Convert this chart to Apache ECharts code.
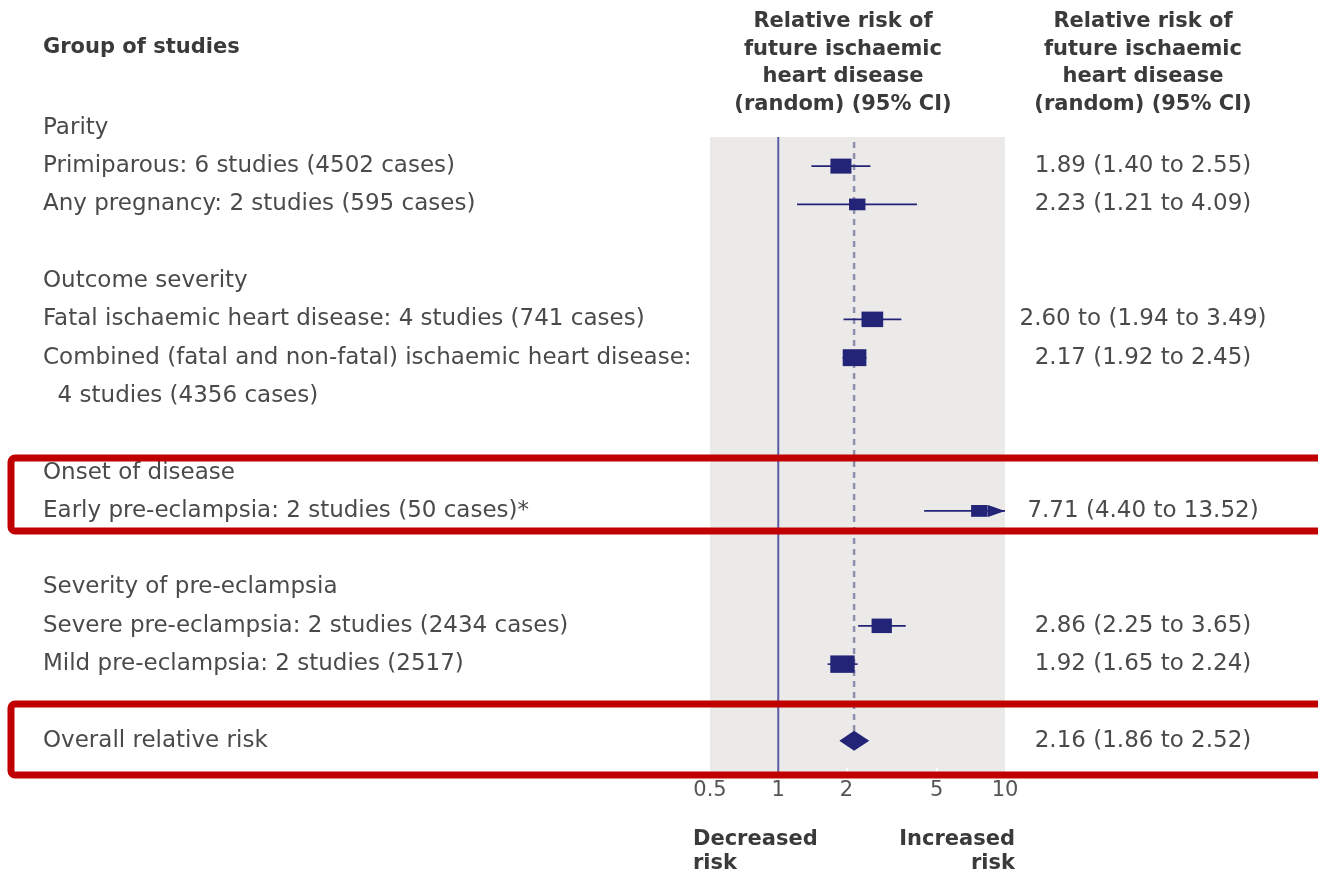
<!DOCTYPE html>
<html>
<head>
<meta charset="utf-8">
<title>Pre-eclampsia and future ischaemic heart disease</title>
<script src="https://cdn.jsdelivr.net/npm/echarts@6/dist/echarts.min.js"></script>
<style>
  html, body { margin: 0; padding: 0; background: #ffffff; }
  #chart { width: 1318px; height: 874px; }
</style>
</head>
<body>
<div id="chart"></div>
<script>
// Text lines of the left-hand column, one per row slot (blank slots are spacers)
const rowLabels = [
  'Parity',
  'Primiparous: 6 studies (4502 cases)',
  'Any pregnancy: 2 studies (595 cases)',
  '',
  'Outcome severity',
  'Fatal ischaemic heart disease: 4 studies (741 cases)',
  'Combined (fatal and non-fatal) ischaemic heart disease:',
  '  4 studies (4356 cases)',
  '',
  'Onset of disease',
  'Early pre-eclampsia: 2 studies (50 cases)*',
  '',
  'Severity of pre-eclampsia',
  'Severe pre-eclampsia: 2 studies (2434 cases)',
  'Mild pre-eclampsia: 2 studies (2517)',
  '',
  'Overall relative risk'
];

// Subgroup estimates: row slot, relative risk, 95% CI and pooled weight (box area)
const studyRow   = [1, 2, 5, 6, 10, 13, 14];
const studyRR    = [1.89, 2.23, 2.60, 2.17, 7.71, 2.86, 1.92];
const studyLower = [1.40, 1.21, 1.94, 1.92, 4.40, 2.25, 1.65];
const studyUpper = [2.55, 4.09, 3.49, 2.45, 13.52, 3.65, 2.24];
const studyWeight = [315, 192, 336, 400, 196, 294, 425];
const studyText = [
  '1.89 (1.40 to 2.55)',
  '2.23 (1.21 to 4.09)',
  '2.60 to (1.94 to 3.49)',
  '2.17 (1.92 to 2.45)',
  '7.71 (4.40 to 13.52)',
  '2.86 (2.25 to 3.65)',
  '1.92 (1.65 to 2.24)'
];

// Pooled estimate
const overallRow = 16;
const overallRR = 2.16;
const overallLower = 1.86;
const overallUpper = 2.52;
const overallText = '2.16 (1.86 to 2.52)';

// Axis ticks
const axisTicks = [0.5, 1, 2, 5, 10];
const axisMin = 0.5;
const axisMax = 10;
const nullEffect = 1;

const NAVY = '#232377';
const TEXT = '#4a4a4a';
const HEAD = '#3a3a3a';
const FONT = '"DejaVu Sans", "Noto Sans", sans-serif';
const ROW_MIN = 0.24;
const ROW_MAX = 16.92;
const LABEL_X = 43;
const VALUE_X = 1143;

const chart = echarts.init(document.getElementById('chart'), null, { renderer: 'canvas' });

const studyData = studyRow.map((r, i) => [studyRR[i], r, studyLower[i], studyUpper[i], studyWeight[i]]);
const labelData = rowLabels.map((t, i) => [nullEffect, i, t]);
const valueData = studyRow.map((r, i) => [nullEffect, r, studyText[i]])
  .concat([[nullEffect, overallRow, overallText]]);

function textItem(text, x, y, align) {
  return {
    type: 'text',
    style: {
      text: text, x: x, y: y,
      fill: TEXT,
      font: '23px ' + FONT,
      align: align, verticalAlign: 'middle',
      textAlign: align, textVerticalAlign: 'middle'
    }
  };
}

const headerText = 'Relative risk of\nfuture ischaemic\nheart disease\n(random) (95% CI)';

const option = {
  animation: false,
  backgroundColor: '#ffffff',
  grid: {
    left: 710, top: 137, width: 295, height: 639,
    show: true, backgroundColor: '#ebeae9', borderWidth: 0
  },
  xAxis: {
    type: 'log', logBase: 10, min: axisMin, max: axisMax,
    axisLine: { show: false },
    splitLine: { show: false },
    axisTick: {
      show: true, inside: true, length: 8, customValues: [2, 5],
      lineStyle: { color: '#ffffff', width: 2 }
    },
    axisLabel: {
      customValues: axisTicks, margin: 4,
      color: '#555555', fontSize: 21, fontFamily: FONT,
      formatter: v => String(+v.toFixed(2))
    }
  },
  yAxis: {
    type: 'value', inverse: true, min: ROW_MIN, max: ROW_MAX, show: false
  },
  graphic: [
    {
      type: 'text', x: 43, y: 48, z: 10,
      style: { text: 'Group of studies', fill: HEAD, font: 'bold 21px ' + FONT, verticalAlign: 'middle', textVerticalAlign: 'middle' }
    },
    {
      type: 'text', x: 843, y: 8, z: 10,
      style: {
        text: headerText, fill: HEAD, font: 'bold 21px ' + FONT,
        lineHeight: 27.5, align: 'center', textAlign: 'center'
      }
    },
    {
      type: 'text', x: 1143, y: 8, z: 10,
      style: {
        text: headerText, fill: HEAD, font: 'bold 21px ' + FONT,
        lineHeight: 27.5, align: 'center', textAlign: 'center'
      }
    },
    {
      type: 'text', x: 693, y: 828, z: 10,
      style: { text: 'Decreased\nrisk', fill: HEAD, font: 'bold 21px ' + FONT, lineHeight: 24, align: 'left' }
    },
    {
      type: 'text', x: 1015, y: 828, z: 10,
      style: { text: 'Increased\nrisk', fill: HEAD, font: 'bold 21px ' + FONT, lineHeight: 24, align: 'right', textAlign: 'right' }
    },
    {
      type: 'rect', z: 20,
      shape: { x: 11, y: 458, width: 1330, height: 73, r: 4 },
      style: { fill: 'none', stroke: '#c00000', lineWidth: 7 }
    },
    {
      type: 'rect', z: 20,
      shape: { x: 11, y: 704, width: 1330, height: 71, r: 4 },
      style: { fill: 'none', stroke: '#c00000', lineWidth: 7 }
    }
  ],
  series: [
    {
      // line of no effect
      type: 'custom', name: 'no effect', clip: false, z: 2,
      data: [[nullEffect]],
      renderItem: (params, api) => {
        const a = api.coord([api.value(0), ROW_MIN]);
        const b = api.coord([api.value(0), ROW_MAX]);
        return {
          type: 'line',
          shape: { x1: a[0], y1: a[1], x2: b[0], y2: b[1] },
          style: { stroke: '#5b5da6', lineWidth: 2 }
        };
      }
    },
    {
      // dashed reference at the pooled estimate
      type: 'custom', name: 'pooled line', clip: false, z: 2,
      data: [[overallRR, overallRow]],
      renderItem: (params, api) => {
        const a = api.coord([api.value(0), 0.37]);
        const b = api.coord([api.value(0), api.value(1)]);
        return {
          type: 'line',
          shape: { x1: a[0], y1: a[1], x2: b[0], y2: b[1] },
          style: { stroke: '#8e8fae', lineWidth: 2.5, lineDash: [6, 5] }
        };
      }
    },
    {
      type: 'custom', name: 'subgroups', clip: false, z: 5,
      data: studyData,
      renderItem: (params, api) => {
        const rr = api.value(0), row = api.value(1);
        const lo = api.value(2), hi = api.value(3), w = api.value(4);
        const c = api.coord([rr, row]);
        const pLo = api.coord([lo, row]);
        const truncated = hi > axisMax;
        const pHi = api.coord([truncated ? axisMax : hi, row]);
        const bw = Math.sqrt(w * 1.4), bh = Math.sqrt(w / 1.4);
        const children = [
          {
            type: 'line',
            shape: { x1: pLo[0], y1: c[1], x2: pHi[0], y2: c[1] },
            style: { stroke: NAVY, lineWidth: 1.6 }
          },
          {
            type: 'rect',
            shape: { x: c[0] - bw / 2, y: c[1] - bh / 2, width: bw, height: bh },
            style: { fill: NAVY }
          }
        ];
        if (truncated) {
          children.push({
            type: 'polygon',
            shape: { points: [[pHi[0] - 17, c[1] - 6], [pHi[0], c[1]], [pHi[0] - 17, c[1] + 6]] },
            style: { fill: NAVY }
          });
        }
        return { type: 'group', children: children };
      }
    },
    {
      type: 'custom', name: 'overall', clip: false, z: 5,
      data: [[overallRR, overallRow, overallLower, overallUpper]],
      renderItem: (params, api) => {
        const row = api.value(1);
        const c = api.coord([api.value(0), row]);
        const l = api.coord([api.value(2), row]);
        const r = api.coord([api.value(3), row]);
        return {
          type: 'polygon',
          shape: { points: [[l[0], c[1]], [c[0], c[1] - 10], [r[0], c[1]], [c[0], c[1] + 10]] },
          style: { fill: NAVY }
        };
      }
    },
    {
      type: 'custom', name: 'row labels', clip: false, z: 6,
      data: labelData,
      renderItem: (params, api) => {
        const y = api.coord([api.value(0), api.value(1)])[1];
        return textItem(rowLabels[params.dataIndex], LABEL_X, y, 'left');
      }
    },
    {
      type: 'custom', name: 'estimates', clip: false, z: 6,
      data: valueData,
      renderItem: (params, api) => {
        const y = api.coord([api.value(0), api.value(1)])[1];
        return textItem(valueData[params.dataIndex][2], VALUE_X, y, 'center');
      }
    }
  ]
};

chart.setOption(option);
</script>
</body>
</html>
